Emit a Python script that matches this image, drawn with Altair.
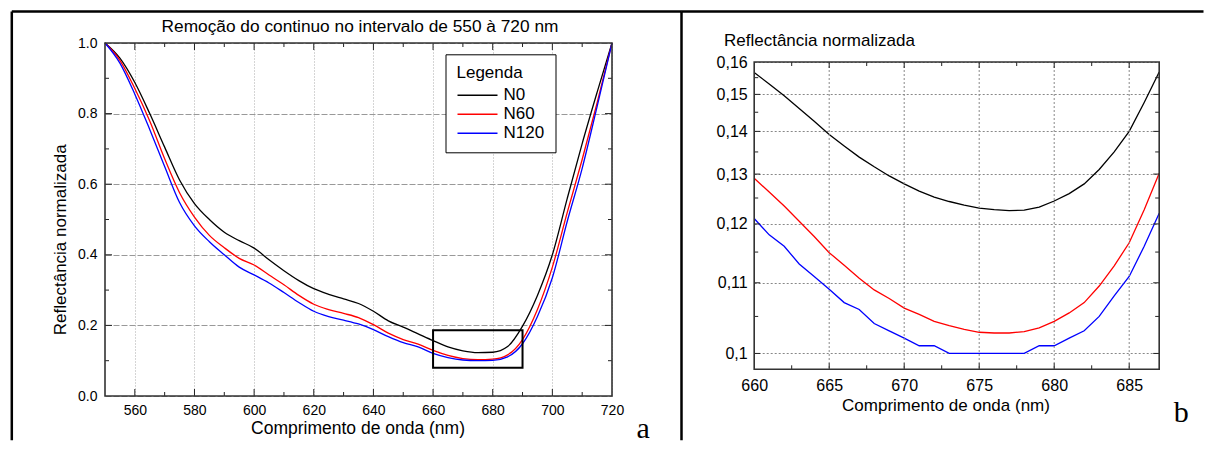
import altair as alt
import pandas as pd

FONT = "Liberation Sans"

# ---------------- data ----------------
series = ["N0", "N60", "N120"]
colors = ["black", "red", "blue"]

wl_left = list(range(550, 721, 5))
n0_left = [1.0, 0.957, 0.888, 0.80, 0.705, 0.612, 0.545, 0.50, 0.464, 0.44,
           0.419, 0.386, 0.355, 0.327, 0.304, 0.288, 0.275, 0.262, 0.24, 0.213,
           0.195, 0.176, 0.157, 0.139, 0.128, 0.123, 0.124, 0.14, 0.198, 0.285,
           0.40, 0.56, 0.715, 0.86, 1.0]
n60_left = [1.0, 0.951, 0.871, 0.779, 0.672, 0.576, 0.507, 0.455, 0.42, 0.39,
            0.371, 0.343, 0.315, 0.285, 0.26, 0.245, 0.234, 0.222, 0.202, 0.178,
            0.16, 0.147, 0.129, 0.115, 0.106, 0.1028, 0.1043, 0.1166, 0.16, 0.245,
            0.365, 0.52, 0.67, 0.83, 1.0]
n120_left = [1.0, 0.943, 0.855, 0.755, 0.65, 0.548, 0.482, 0.437, 0.40, 0.365,
             0.343, 0.32, 0.293, 0.265, 0.24, 0.225, 0.215, 0.204, 0.188, 0.168,
             0.151, 0.139, 0.121, 0.109, 0.102, 0.100, 0.101, 0.111, 0.148, 0.225,
             0.335, 0.495, 0.645, 0.82, 1.0]

wl_right = list(range(660, 688))
n0_right = [0.1566, 0.1531, 0.1496, 0.1460, 0.1426, 0.1392, 0.1364, 0.1338, 0.1316, 0.1296,
            0.1279, 0.1264, 0.1252, 0.1243, 0.1236, 0.1230, 0.1227, 0.1225, 0.1226, 0.1232,
            0.1244, 0.1259, 0.1279, 0.1310, 0.1350, 0.1400, 0.1477, 0.1568]
n60_right = [0.1291, 0.1262, 0.1234, 0.1205, 0.1177, 0.1149, 0.1128, 0.1107, 0.1089, 0.1076,
             0.1062, 0.1053, 0.1043, 0.1037, 0.1032, 0.1028, 0.1027, 0.1027, 0.1029, 0.1034,
             0.1043, 0.1055, 0.1070, 0.1095, 0.1127, 0.1166, 0.1227, 0.1302]
n120_right = [0.121, 0.118, 0.116, 0.113, 0.111, 0.109, 0.107, 0.106, 0.104, 0.103,
              0.102, 0.101, 0.101, 0.100, 0.100, 0.100, 0.100, 0.100, 0.100, 0.101,
              0.101, 0.102, 0.103, 0.105, 0.108, 0.111, 0.116, 0.122]

box_x = [660, 690]
box_y = [0.08, 0.186]

title_left = "Remoção do continuo no intervalo de 550 à 720 nm"
xlabel = "Comprimento de onda (nm)"
ylabel = "Reflectância normalizada"

x_ticks_left = [560, 580, 600, 620, 640, 660, 680, 700, 720]
x_minor_left = [570, 590, 610, 630, 650, 670, 690, 710]
y_ticks_left = [0.0, 0.2, 0.4, 0.6, 0.8, 1.0]
y_minor_left = [0.1, 0.3, 0.5, 0.7, 0.9]

x_ticks_right = [660, 665, 670, 675, 680, 685]
x_minor_right = [662.5, 667.5, 672.5, 677.5, 682.5]
y_ticks_right = [0.10, 0.11, 0.12, 0.13, 0.14, 0.15, 0.16]
y_minor_right = [0.105, 0.115, 0.125, 0.135, 0.145, 0.155]

# ---------------- helpers ----------------
one = pd.DataFrame({"k": [0]})


def long_df(wl, vals):
    rows = []
    for s, v in zip(series, vals):
        for w, r in zip(wl, v):
            rows.append({"wl": w, "r": r, "s": s})
    return pd.DataFrame(rows)


def hline(x0, x1, y, color="black", sw=2.5):
    return alt.Chart(one).mark_rule(color=color, strokeWidth=sw).encode(
        x=alt.value(x0), x2=alt.value(x1), y=alt.value(y))


def vline(x, y0, y1, color="black", sw=2.5):
    return alt.Chart(one).mark_rule(color=color, strokeWidth=sw).encode(
        x=alt.value(x), y=alt.value(y0), y2=alt.value(y1))


def frame(x0, x1, y0, y1):
    return alt.Chart(one).mark_rect(
        fill="transparent", stroke="#333", strokeWidth=1.6
    ).encode(x=alt.value(x0), x2=alt.value(x1), y=alt.value(y0), y2=alt.value(y1))


def xticks(vals, scale, axis, top, bottom, L):
    d = pd.DataFrame({"v": vals})
    base = alt.Chart(d).mark_rule(color="#222", strokeWidth=1)
    xe = alt.X("v:Q", scale=scale, axis=axis)
    return [base.encode(x=xe, y=alt.value(bottom), y2=alt.value(bottom - L)),
            base.encode(x=xe, y=alt.value(top), y2=alt.value(top + L))]


def yticks(vals, scale, axis, W, L):
    d = pd.DataFrame({"v": vals})
    base = alt.Chart(d).mark_rule(color="#222", strokeWidth=1)
    ye = alt.Y("v:Q", scale=scale, axis=axis)
    return [base.encode(y=ye, x=alt.value(0), x2=alt.value(L)),
            base.encode(y=ye, x=alt.value(W), x2=alt.value(W - L))]


def text(t, x, y, size, font=FONT, align="center"):
    return alt.Chart(pd.DataFrame({"t": [t]})).mark_text(
        font=font, fontSize=size, align=align, baseline="alphabetic", color="black"
    ).encode(text="t:N", x=alt.value(x), y=alt.value(y))


color_scale = alt.Scale(domain=series, range=colors)

# ---------------- left panel ----------------
W1, H1 = 507, 353
xs1 = alt.Scale(domain=[550, 720], nice=False, zero=False)
ys1 = alt.Scale(domain=[0, 1], nice=False, zero=False)

xax1 = alt.Axis(
    values=x_ticks_left, title=xlabel, grid=True, gridDash=[1, 2], gridColor="#aaa",
    labelFontSize=14, labelPadding=7, labelFlush=False,
    titleFontSize=17.5, titleX=252.5, titleY=37, titleAlign="center",
    titleBaseline="alphabetic")
yax1 = alt.Axis(
    values=y_ticks_left, format=".1f", title=ylabel, grid=True, gridDash=[6, 2],
    gridColor="#999", labelFontSize=14, labelPadding=8,
    titleFontSize=17, titleAngle=270, titleX=-39.5, titleY=196.3,
    titleAlign="center", titleBaseline="alphabetic")

lines1 = alt.Chart(long_df(wl_left, [n0_left, n60_left, n120_left])).mark_line(
    strokeWidth=1.3, interpolate="monotone"
).encode(
    x=alt.X("wl:Q", scale=xs1, axis=xax1),
    y=alt.Y("r:Q", scale=ys1, axis=yax1),
    color=alt.Color("s:N", scale=color_scale, sort=series, legend=alt.Legend(
        orient="none", legendX=340.5, legendY=11.3, title="Legenda",
        titleFont=FONT, titleFontSize=17, titleFontWeight="normal", titleColor="black",
        labelFont=FONT, labelFontSize=17, labelColor="black",
        fillColor="white", strokeColor="black", padding=11,
        symbolType="M-1,0H3", symbolSize=400, symbolStrokeWidth=1.5,
        labelOffset=25, rowPadding=0, titlePadding=2)),
)

box = alt.Chart(pd.DataFrame({"x0": [box_x[0]], "x1": [box_x[1]],
                              "y0": [box_y[0]], "y1": [box_y[1]]})).mark_rect(
    fill="transparent", stroke="black", strokeWidth=2
).encode(
    x=alt.X("x0:Q", scale=xs1, axis=xax1), x2="x1:Q",
    y=alt.Y("y0:Q", scale=ys1, axis=yax1), y2="y1:Q")

left_layers = (
    [lines1]
    + xticks(x_minor_left, xs1, xax1, 0, H1, 4) + xticks(x_ticks_left[:-1], xs1, xax1, 0, H1, 7)
    + yticks(y_minor_left, ys1, yax1, W1, 4) + yticks(y_ticks_left[1:-1], ys1, yax1, W1, 7)
    + [box, frame(0, W1, 0, H1),
       vline(-93.2, -31.4, 397.3), hline(-93.2, 576.5, -31.4), vline(576.5, -31.4, 397.3),
       text(title_left, 255, -10.7, 17.3),
       text("a", 538.2, 395.3, 30, font="Liberation Serif")]
)
left = alt.layer(*left_layers).properties(width=W1, height=H1)

# ---------------- right panel ----------------
# view starts at the same height as the left plot; data area begins TOP2 px lower
W2, H2 = 405, 326.3
TOP2 = 19
xs2 = alt.Scale(domain=[660, 687], nice=False, zero=False)
ys2 = alt.Scale(type="pow", exponent=-1, domain=[0.098, 0.16], nice=False, zero=False,
                range=[H2, TOP2])

xax2 = alt.Axis(
    values=x_ticks_right, title=xlabel, grid=False,
    labelFontSize=16, labelPadding=8, labelFlush=False,
    titleFontSize=17, titleX=191.3, titleY=41, titleAlign="center",
    titleBaseline="alphabetic")
yax2 = alt.Axis(
    values=y_ticks_right, format=".2~f", labelExpr="replace(datum.label, '.', ',')",
    title=ylabel, grid=True, gridDash=[2, 2], gridColor="#888",
    labelFontSize=16, labelPadding=7,
    titleFontSize=17, titleAngle=0, titleX=-30.7, titleY=2.3,
    titleAlign="left", titleBaseline="alphabetic")

lines2 = alt.Chart(long_df(wl_right, [n0_right, n60_right, n120_right])).mark_line(
    strokeWidth=1.3
).encode(
    x=alt.X("wl:Q", scale=xs2, axis=xax2),
    y=alt.Y("r:Q", scale=ys2, axis=yax2),
    color=alt.Color("s:N", scale=color_scale, sort=series, legend=None),
)

xgrid2 = alt.Chart(pd.DataFrame({"v": x_ticks_right[1:]})).mark_rule(
    color="#888", strokeWidth=1, strokeDash=[2, 2]
).encode(x=alt.X("v:Q", scale=xs2, axis=xax2), y=alt.value(TOP2), y2=alt.value(H2))

right_layers = (
    [lines2, xgrid2]
    + xticks(x_minor_right, xs2, xax2, TOP2, H2, 4) + xticks(x_ticks_right[1:], xs2, xax2, TOP2, H2, 6)
    + yticks(y_minor_right, ys2, yax2, W2, 4) + yticks(y_ticks_right[:-1], ys2, yax2, W2, 6)
    + [frame(0, W2, TOP2, H2),
       hline(-73, 449.3, -31.4),
       text("b", 427, 379, 30, font="Liberation Serif")]
)
right = alt.layer(*right_layers).properties(width=W2, height=H2)

chart = alt.hconcat(left, right, spacing=142.2, bounds="flush").resolve_scale(
    color="independent"
).resolve_legend(color="independent").properties(
    padding={"left": 2, "top": 2, "right": 0, "bottom": 0}
).configure_view(
    stroke=None
).configure_axis(
    labelFont=FONT, titleFont=FONT, labelColor="black", titleColor="black",
    domain=False, ticks=False, titleFontWeight="normal"
)

chart.save("out.html", embed_options={"renderer": "svg", "actions": False})
